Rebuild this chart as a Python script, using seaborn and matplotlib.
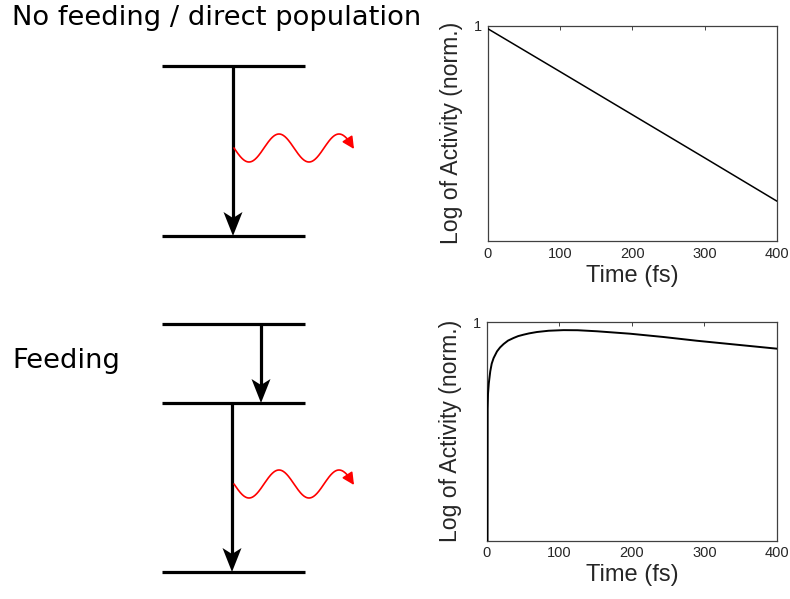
import numpy as np
import pandas as pd
import matplotlib
matplotlib.use('Agg')
import matplotlib.pyplot as plt
import seaborn as sns
from matplotlib.patches import Polygon

# values (time in fs, normalised activity)
direct_time = [0, 100, 200, 300, 400]
direct_activity = [0.965, 0.610, 0.385, 0.243, 0.153]

feed_time = [0.7, 0.9, 1.4, 2.5, 4.5, 6.5, 9.1, 13.8, 18.0, 22.9, 29.0, 36.6,
             43.0, 50.4, 58.0, 68.9, 85.0, 105.5, 125.0, 151.5, 197.4, 243.3,
             289.3, 335.1, 400]
feed_activity = [0.08, 0.40, 0.47, 0.525, 0.595, 0.645, 0.684, 0.734, 0.765,
                 0.793, 0.822, 0.845, 0.862, 0.875, 0.887, 0.900, 0.912, 0.918,
                 0.917, 0.907, 0.884, 0.854, 0.821, 0.793, 0.755]

x_ticks = [0, 100, 200, 300, 400]
panel_titles = ['No feeding / direct population', 'Feeding']

sns.set_theme(style='white')
plt.rcParams['font.family'] = ['Liberation Sans', 'DejaVu Sans']

fig = plt.figure(figsize=(7.9, 5.99), dpi=100)

# --- level diagrams, drawn in pixel coordinates ---
ax_d = fig.add_axes([0, 0, 1, 1])
ax_d.set_xlim(0, 790)
ax_d.set_ylim(599, 0)
ax_d.axis('off')


def level(y):
    ax_d.plot([162, 305], [y, y], color='black', lw=2.3, solid_capstyle='butt')


def down_arrow(x, y0, y1):
    ax_d.plot([x, x], [y0, y1 - 15], color='black', lw=2.3, solid_capstyle='butt')
    ax_d.add_patch(Polygon([(x, y1), (x - 9.5, y1 - 24), (x, y1 - 18), (x + 9.5, y1 - 24)],
                           closed=True, color='black', lw=0))


def photon(yc):
    xs = np.linspace(234, 348, 200)
    ys = yc + 14 * np.sin(2 * np.pi * (xs - 234) / 60)
    ax_d.plot(xs, ys, color='red', lw=1.2)
    ax_d.annotate('', xy=(354, yc + 1), xytext=(xs[-1], ys[-1]),
                  arrowprops=dict(arrowstyle='-|>,head_length=0.8,head_width=0.4',
                                  color='red', lw=1.2, mutation_scale=9,
                                  shrinkA=0, shrinkB=0))


level(66)
level(236)
down_arrow(233, 66, 236)
photon(148)

level(324)
level(403)
level(572)
down_arrow(261, 324, 403)
down_arrow(232, 403, 572)
photon(484)

fig.text(12 / 790, 1 - 25 / 599, panel_titles[0], fontsize=19.7, color='black',
         family='DejaVu Sans', va='baseline', ha='left')
fig.text(12 / 790, 1 - 368 / 599, panel_titles[1], fontsize=19.7, color='black',
         family='DejaVu Sans', va='baseline', ha='left')

# --- decay plots ---
ax1 = fig.add_axes([488 / 790, 1 - 241 / 599, 289 / 790, 215.5 / 599])
ax2 = fig.add_axes([487 / 790, 1 - 540.7 / 599, 290 / 790, 218.7 / 599])

df1 = pd.DataFrame({'t': direct_time, 'a': direct_activity})
df2 = pd.DataFrame({'t': feed_time, 'a': feed_activity})

sns.lineplot(data=df1, x='t', y='a', ax=ax1, color='black', lw=1.1,
             estimator=None, sort=False)
sns.lineplot(data=df2, x='t', y='a', ax=ax2, color='black', lw=1.4,
             estimator=None, sort=False)

for ax in (ax1, ax2):
    ax.set_yscale('log')
    ax.set_ylim(0.1, 1)
    ax.set_xlim(0, 400)
    ax.set_xticks(x_ticks)
    ax.set_yticks([1])
    ax.set_yticklabels(['1'])
    ax.minorticks_off()
    ax.tick_params(direction='in', length=3, width=0.6, colors='#262626',
                   labelsize=10.5, top=True, right=True, pad=4)
    for sp in ax.spines.values():
        sp.set_visible(True)
        sp.set_color('#404040')
        sp.set_linewidth(0.9)
        sp.set_zorder(1)
    ax.set_xlabel('Time (fs)', fontsize=17, color='#262626', labelpad=3)
    ax.set_ylabel('Log of Activity (norm.)', fontsize=16.6, color='#262626', labelpad=8)

fig.savefig('out.png', dpi=100)
